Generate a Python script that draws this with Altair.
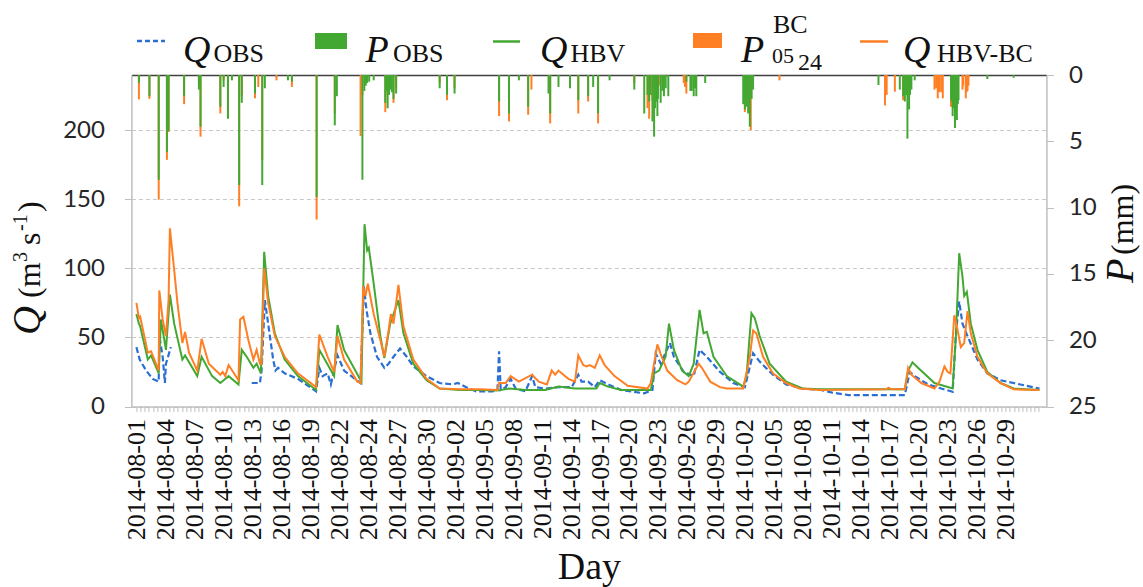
import altair as alt
import pandas as pd

# ---------------- data (x = day-position index, 3 units per date label) ----------------
X_LABELS = ["2014-08-01", "2014-08-04", "2014-08-07", "2014-08-10", "2014-08-13", "2014-08-16",
            "2014-08-19", "2014-08-22", "2014-08-24", "2014-08-27", "2014-08-30", "2014-09-02",
            "2014-09-05", "2014-09-08", "2014-09-11", "2014-09-14", "2014-09-17", "2014-09-20",
            "2014-09-23", "2014-09-26", "2014-09-29", "2014-10-02", "2014-10-05", "2014-10-08",
            "2014-10-11", "2014-10-14", "2014-10-17", "2014-10-20", "2014-10-23", "2014-10-26",
            "2014-10-29"]

# Q_OBS (two segments, gap of missing data)
QOBS_T1 = [0, 0.34, 1.01, 1.69, 2.31, 2.37, 2.72, 2.95, 3.06, 3.57]
QOBS_V1 = [43, 34, 26, 20, 18, 51, 36, 17, 31, 43]
QOBS_T2 = [11.94, 12.79, 12.96, 13.3, 13.64, 14.16, 14.4, 14.67, 15.35, 16.72, 18.6, 18.94, 19.28,
           19.8, 20.13, 20.82, 21.5, 23.2, 23.55, 23.82, 24.23, 24.91, 25.67, 26.11, 26.62, 27.3,
           27.99, 28.67, 30.04, 31.4, 32.77, 33.28, 34.14, 35.16, 36.87, 37.38, 37.55, 37.72, 38.23,
           38.75, 39.26, 40.28, 40.97, 41.31, 42.33, 43.7, 45.07, 45.75, 46.09, 46.77, 47.46, 47.97,
           48.82, 50.19, 52.58, 53.43, 53.77, 54.28, 55.24, 55.65, 56.67, 57.7, 58.31, 59.06, 60.43,
           61.8, 63.0, 63.85, 64.53, 65.9, 67.27, 68.97, 70.85, 72.05, 73.75, 79.56, 80.07, 80.58,
           81.95, 83.32, 84.51, 84.85, 85.19, 85.53, 86.05, 87.08, 88.1, 89.47, 90.83, 92.54, 93.5]
QOBS_V2 = [17, 17, 26, 77, 60, 34, 26, 28, 24, 20, 11, 28, 22,
           24, 16, 37, 26, 17, 87, 70, 53, 36, 28, 31, 36, 42,
           36, 29, 22, 17, 16, 17, 14, 11, 11, 12, 40, 12, 14,
           20, 13, 11, 22, 14, 13, 14, 14, 23, 18, 18, 14, 19,
           16, 12, 9.5, 12, 38.5, 31, 46, 36, 25, 22, 41, 36, 25,
           17, 14, 38.5, 32.5, 23, 16, 13, 12, 10, 8.3, 8.3, 25, 22,
           16, 13, 10.7, 53, 76, 60, 51, 34, 24, 19, 17, 14.4, 13]

# Q_HBV
QHBV_T = [0, 0.26, 0.39, 1.18, 1.52, 2.31, 2.54, 3.06, 3.47, 3.91, 4.76, 5.04, 6.3, 6.75, 7.84, 8.69,
          9.03, 9.55, 10.57, 10.91, 11.42, 12.11, 12.45, 12.89, 13.23, 13.64, 14.33, 15.35, 16.72,
          18.6, 18.94, 20.47, 20.82, 21.5, 23.3, 23.62, 23.89, 24.06, 24.57, 25.26, 25.67, 26.28,
          26.62, 27.13, 27.65, 28.67, 30.04, 31.4, 33.45, 35.5, 37.38, 38.58, 40.28, 42.33, 43.7,
          45.41, 47.28, 47.63, 47.97, 48.82, 50.19, 53.26, 53.6, 54.11, 54.79, 55.14, 55.65, 56.5,
          57.19, 57.7, 58.31, 58.72, 59.06, 59.75, 61.12, 62.83, 63.17, 63.68, 64.02, 64.53, 65.56,
          67.27, 68.97, 70.85, 79.56, 79.9, 80.35, 80.93, 82.63, 84.51, 84.85, 85.19, 85.53, 85.71,
          85.98, 86.39, 87.08, 88.1, 89.47, 90.83, 93.5]
QHBV_V = [67, 60, 58, 34, 37, 24, 63, 41, 81, 60, 34, 37, 22, 36, 22, 17,
          19, 22, 16, 41, 36, 28, 31, 24, 112, 80, 53, 34, 22,
          12, 41, 22, 59, 41, 18, 132, 113, 115, 89, 51, 35, 60,
          67, 77, 53, 31, 19, 13, 12, 12, 11.5, 13, 12, 12, 14.4,
          13, 13, 13, 17, 14.4, 12, 12, 24, 26, 36, 60, 41, 26,
          22, 31, 70, 53, 54, 36, 22, 14.4, 22, 67.5, 64, 51, 31,
          18, 13, 12.4, 12.4, 26, 32, 28, 17, 13, 51, 111, 94, 80,
          83, 60, 41, 25, 17, 13, 12]

# Q_HBV-BC
QBC_T = [0, 0.26, 0.39, 1.18, 1.52, 1.86, 2.31, 2.37, 2.72, 3.06, 3.33, 3.47, 3.91, 4.25, 4.76, 5.04,
         5.45, 6.3, 6.75, 7.5, 8.69, 8.93, 9.2, 9.55, 10.57, 10.74, 11.08, 11.6, 12.11, 12.45, 12.79,
         12.96, 13.23, 13.64, 14.33, 15.35, 16.72, 18.6, 18.94, 19.8, 20.47, 20.82, 21.5, 22.87,
         23.21, 23.48, 23.72, 23.96, 24.57, 25.26, 25.67, 26.11, 26.35, 26.62, 27.13, 27.65, 28.67,
         30.04, 31.4, 33.45, 35.5, 37.38, 37.55, 38.23, 38.75, 39.6, 40.97, 41.65, 42.5, 43.0, 43.36,
         43.7, 44.72, 45.41, 45.75, 46.26, 46.6, 46.94, 47.46, 47.97, 48.48, 49.5, 50.87, 52.92,
         53.26, 53.94, 54.28, 54.96, 55.99, 56.85, 57.19, 58.21, 58.55, 59.41, 60.43, 61.12, 62.83,
         63.51, 63.85, 64.19, 64.88, 65.9, 67.27, 68.63, 70.85, 77.68, 77.85, 78.2, 79.56, 79.9,
         80.24, 81.27, 82.63, 83.15, 83.66, 84.0, 84.28, 84.68, 84.95, 85.36, 85.71, 86.05, 86.39,
         87.08, 88.1, 89.47, 90.83, 93.5]
QBC_V = [75, 64, 65, 39, 40, 34, 26, 84, 63, 51, 77, 129, 99, 75, 46, 54,
         39, 26, 49, 31, 23, 25, 22, 30, 19, 63, 65, 48, 34, 41, 31,
         31, 100, 75, 51, 36, 24, 14, 52, 36, 25, 51, 34, 18,
         17, 87, 80, 89, 67, 48, 36, 55, 67, 60, 88, 58, 34,
         20, 13, 12.4, 12.4, 12, 17, 17, 22, 18, 23, 18, 16, 26, 23,
         26, 20, 18, 37, 30, 29, 30, 28, 37, 30, 22, 15, 13,
         17, 45, 38, 26, 19, 16, 18, 31, 28, 18, 14, 13, 13,
         36, 55, 53, 36, 24, 17, 13, 12, 12.4, 13.6, 12.4, 12.4, 28,
         23, 17, 13, 18, 29, 25, 24, 66, 58, 43, 46, 69, 53,
         36, 24, 17, 12.4, 12]

# Precipitation P_OBS (mm)
POBS_T = [0.26, 1.35, 2.31, 3.16, 3.33, 4.94, 6.47, 6.64, 8.69, 9.03, 9.48, 9.89, 10.64, 10.91, 12.28,
          13.03, 13.3, 15.69, 16.1, 18.66, 20.54, 20.75, 23.4, 23.6, 23.75, 23.89, 24.1, 24.57, 25.77,
          25.9, 26.01, 26.15, 26.28, 26.45, 26.62, 26.89, 31.4, 32.16, 32.94, 37.55, 38.58, 39.6,
          40.56, 42.67, 42.84, 43.7, 44.89, 45.75, 46.77, 47.29, 47.8, 48.99, 51.55, 52.58, 52.92,
          53.09, 53.2, 53.43, 53.6, 53.7, 53.8, 53.94, 54.0, 54.28, 54.45, 54.62, 54.8, 55.07, 56.94,
          57.36, 57.5, 57.7, 57.85, 57.97, 58.89, 62.83, 63.0, 63.1, 63.2, 63.34, 63.42, 63.51, 63.7,
          63.85, 76.83, 79.04, 79.39, 79.56, 79.7, 79.83, 80.0, 80.1, 80.24, 80.58, 84.34, 84.4,
          84.51, 84.6, 84.75, 84.85, 84.95, 85.05, 85.12, 88.1, 90.83]
POBS_V = [0.6, 1.6, 7.9, 5.8, 4.2, 1.6, 1.1, 3.9, 2.4, 0.9, 3.3, 0.4, 8.3, 2.1, 1.4,
          8.3, 1.0, 0.4, 0.5, 9.2, 3.8, 1.6, 7.9, 1.2, 0.8, 0.6, 0.5, 0.4, 2.1,
          1.2, 2.5, 1.5, 1.1, 1.3, 1.8, 1.4, 1.0, 1.5, 1.4, 2.0, 2.9, 0.4,
          2.4, 1.4, 2.9, 0.9, 1.0, 1.9, 1.6, 0.9, 2.9, 0.4, 1.1, 2.9, 1.5,
          2.0, 1.5, 3.5, 4.65, 2.5, 2.0, 3.1, 1.8, 2.1, 1.2, 1.6, 1.0, 1.6, 0.5,
          1.2, 1.2, 1.6, 1.0, 1.6, 0.6, 2.2, 2.6, 1.8, 2.4, 2.9, 2.0, 3.9, 1.8,
          1.1, 0.75, 1.1, 1.6, 2.0, 1.5, 4.8, 2.6, 1.5, 1.1, 0.4, 1.8, 2.0,
          3.1, 2.5, 4.0, 2.8, 3.4, 2.2, 1.9, 0.3, 0.2]

# Precipitation P^BC (mm)
PBC_T = [0.26, 1.35, 2.31, 3.16, 3.33, 4.94, 6.47, 6.64, 8.69, 9.03, 9.48, 10.64, 10.91, 12.28, 12.62,
         13.03, 14.5, 16.1, 18.66, 20.54, 23.21, 23.4, 23.89, 25.77, 26.01, 26.62, 26.89, 31.4, 32.16,
         32.94, 37.55, 38.58, 40.56, 40.9, 42.84, 44.89, 45.75, 46.77, 47.8, 51.55, 52.92, 53.0,
         53.09, 53.25, 53.43, 53.6, 53.94, 54.1, 56.67, 56.8, 56.94, 57.7, 63.0, 63.1, 63.3, 63.51,
         63.61, 66.58, 77.51, 77.6, 77.68, 78.53, 79.39, 79.5, 79.83, 82.63, 82.8, 82.97, 83.1,
         83.32, 83.4, 83.49, 84.34, 84.5, 84.75, 85.53, 85.6, 85.87, 85.95, 86.05, 86.15]
PBC_V = [1.84, 1.8, 9.4, 6.4, 4.3, 2.2, 0.5, 4.65, 2.9, 0.4, 3.1, 9.9, 1.6, 1.76, 0.9,
         6.4, 0.4, 0.9, 10.9, 2.9, 4.6, 1.5, 0.4, 2.8, 1.5, 2.1, 1.0, 0.6, 1.9,
         1.0, 3.1, 3.5, 3.0, 1.1, 3.65, 0.6, 2.9, 2.0, 3.65, 0.6, 2.5, 2.0,
         3.3, 1.5, 1.9, 1.0, 1.5, 0.8, 0.6, 0.9, 1.4, 1.0, 2.8, 2.0, 1.6, 2.2,
         4.15, 0.4, 2.3, 1.5, 1.5, 1.26, 1.9, 1.2, 1.0, 1.1, 1.0, 1.76, 1.3,
         1.3, 0.9, 1.76, 2.4, 1.6, 1.5, 1.1, 0.8, 1.76, 1.3, 1.2, 0.8]

# ---------------- colours / fonts ----------------
BLUE = "#2a6fd1"
GREEN = "#42a832"
ORANGE = "#ff7f24"
SERIF = "Liberation Serif"
SANS = "Lato"
AXGRAY = "#bfbfbf"

X_MAX = 93.7
xs = alt.Scale(domain=[0, X_MAX], nice=False, zero=False)

tick_vals = [k * 3 / 7 for k in range(0, 219)]
lab_arr = "[" + ",".join("'" + s + "'" for s in X_LABELS) + "]"
label_expr = ("abs(datum.value/3 - round(datum.value/3)) < 0.01 ? "
              + lab_arr + "[round(datum.value/3)] : ''")

x_bottom = alt.Axis(orient="bottom", values=tick_vals, labelExpr=label_expr, labelOverlap=False,
                    labelAngle=270, labelAlign="right", labelBaseline="middle", labelFont=SERIF,
                    labelFontSize=26, labelColor="#111111", labelPadding=7, labelFlush=False,
                    labelBound=False, tickSize=5, tickColor=AXGRAY, domainColor=AXGRAY,
                    domainWidth=1.5, grid=False, title="Day", titleFont=SERIF, titleFontSize=38,
                    titleFontWeight="normal", titleColor="#111111", titleBaseline="alphabetic",
                    titleY=172)
x_top = alt.Axis(orient="top", labels=False, ticks=False, domain=True, domainColor="#404040",
                 domainWidth=1.5, grid=False, title=None)

q_scale = alt.Scale(domain=[0, 240], nice=False)
q_axis = alt.Axis(orient="left", values=[0, 50, 100, 150, 200], grid=True, gridDash=[4, 3],
                  gridColor="#c8c8c8", gridWidth=1, domainColor=AXGRAY, domainWidth=1.5,
                  tickColor=AXGRAY, tickSize=7, labelFont=SANS, labelFontSize=24,
                  labelColor="#262626", labelPadding=20, title=None)
p_scale = alt.Scale(domain=[0, 25], reverse=True, nice=False)
p_axis = alt.Axis(orient="right", values=[0, 5, 10, 15, 20, 25], grid=False, domainColor=AXGRAY,
                  domainWidth=1.5, tickColor=AXGRAY, tickSize=7, labelFont=SANS, labelFontSize=24,
                  labelColor="#262626", labelPadding=15, title=None)

# ---------------- data frames ----------------
df_obs = pd.DataFrame({"t": QOBS_T1 + QOBS_T2, "q": QOBS_V1 + QOBS_V2,
                       "seg": [1] * len(QOBS_T1) + [2] * len(QOBS_T2)})
df_hbv = pd.DataFrame({"t": QHBV_T, "q": QHBV_V})
df_bc = pd.DataFrame({"t": QBC_T, "q": QBC_V})
df_pobs = pd.DataFrame({"t": POBS_T, "p": POBS_V})
df_pbc = pd.DataFrame({"t": PBC_T, "p": PBC_V})

# ---------------- precipitation bars (right reversed axis) ----------------
bar_bc = alt.Chart(df_pbc).mark_bar(size=2, color=ORANGE, orient="vertical").encode(
    x=alt.X("t:Q", scale=xs, axis=x_top),
    y=alt.Y("p:Q", scale=p_scale, axis=p_axis))
bar_obs = alt.Chart(df_pobs).mark_bar(size=2, color=GREEN, orient="vertical").encode(
    x=alt.X("t:Q", scale=xs, axis=x_top),
    y=alt.Y("p:Q", scale=p_scale, axis=p_axis))
bars = alt.layer(bar_bc, bar_obs)

# ---------------- discharge lines ----------------
line_obs = alt.Chart(df_obs).mark_line(color=BLUE, strokeWidth=2.2, strokeDash=[6, 3]).encode(
    x=alt.X("t:Q", scale=xs, axis=x_bottom),
    y=alt.Y("q:Q", scale=q_scale, axis=q_axis),
    detail="seg:N")
line_hbv = alt.Chart(df_hbv).mark_line(color=GREEN, strokeWidth=2).encode(
    x=alt.X("t:Q", scale=xs, axis=x_bottom),
    y=alt.Y("q:Q", scale=q_scale, axis=q_axis))
line_bc = alt.Chart(df_bc).mark_line(color=ORANGE, strokeWidth=2).encode(
    x=alt.X("t:Q", scale=xs, axis=x_bottom),
    y=alt.Y("q:Q", scale=q_scale, axis=q_axis))
lines = alt.layer(line_obs, line_hbv, line_bc)

# ---------------- legend and axis titles (text built from pieces) ----------------
one = pd.DataFrame({"a": [0]})


def txt(s, x, y, size, italic=False, angle=0):
    kw = dict(text=s, font=SERIF, fontSize=size, align="left", baseline="alphabetic",
              color="#111111")
    if italic:
        kw["fontStyle"] = "italic"
    if angle:
        kw["angle"] = angle
    return alt.Chart(one).mark_text(**kw).encode(x=alt.value(x), y=alt.value(y))


def hline(x1, x2, y, color, dash=None):
    kw = dict(color=color, strokeWidth=2.5)
    if dash:
        kw["strokeDash"] = dash
    return alt.Chart(one).mark_rule(**kw).encode(x=alt.value(x1), x2=alt.value(x2), y=alt.value(y))


def box(x1, x2, y1, y2, color):
    return alt.Chart(one).mark_rect(color=color).encode(
        x=alt.value(x1), x2=alt.value(x2), y=alt.value(y1), y2=alt.value(y2))


legend = [
    hline(5.6, 33.6, -34, BLUE, [5, 3]),
    txt("Q", 51.6, -13, 38, italic=True), txt("OBS", 82, -13, 26),
    box(183.6, 215.6, -42, -26, GREEN),
    txt("P", 234, -13, 38, italic=True), txt("OBS", 261.6, -13, 26),
    hline(361.6, 388.6, -33.5, GREEN),
    txt("Q", 408.6, -13, 38, italic=True), txt("HBV", 439, -13, 26),
    box(561.6, 590.6, -42, -27, ORANGE),
    txt("P", 609.6, -13, 38, italic=True), txt("BC", 641.6, -42, 26),
    txt("05", 640.6, -12, 22), txt("24", 666.6, -5, 24),
    hline(728.6, 756.6, -33.5, ORANGE),
    txt("Q", 771.6, -13, 38, italic=True), txt("HBV-BC", 805.6, -13, 26),
]

titles = [
    # left: Q (m3 s-1)
    txt("Q", -91, 260, 40, italic=True, angle=270),
    txt("(m", -91, 223, 32, angle=270),
    txt("3", -104, 187, 20, angle=270),
    txt("s", -91, 170, 32, angle=270),
    txt("-1", -104, 156, 20, angle=270),
    txt(")", -91, 137, 32, angle=270),
    # right: P (mm)
    txt("P", 1002, 208, 40, italic=True, angle=270),
    txt("(mm)", 1002, 180, 32, angle=270),
]

chart = alt.layer(bars, lines, *legend, *titles).resolve_scale(
    y="independent").resolve_axis(x="independent", y="independent").properties(
    width=915, height=331.5,
    autosize=alt.AutoSizeParams(type="none"),
    padding={"left": 131.4, "top": 75, "right": 96.6, "bottom": 180.5},
    background="white",
).configure_view(stroke=None)

chart.save("out.html", embed_options={"renderer": "svg", "actions": False})
